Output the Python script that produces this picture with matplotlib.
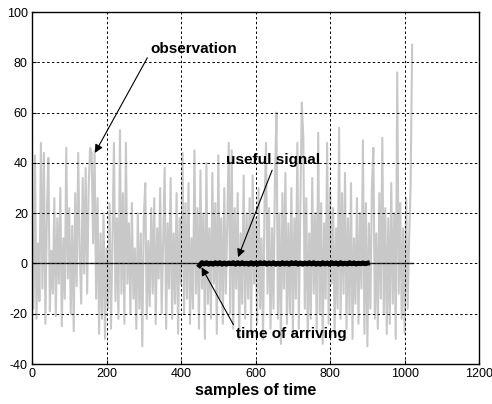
import numpy as np
import matplotlib.pyplot as plt

plt.rcParams['font.family'] = ['Liberation Sans', 'DejaVu Sans']
plt.rcParams['axes.unicode_minus'] = False

# observation (noisy record), one value every 4 samples
obs_step = 4
observation = [
    12, -18, 43, -22, 8, -15, 48, -10, 44, -24, 20, 42, -19, 5, -12, 26,
    -21, 18, -8, 30, -25, 10, -14, 46, -6, 22, -20, 15, -27, 28, -9, 44,
    5, -16, 34, -4, 38, -12, 30, 46, 44, 8, 45, -14, 26, -28, 12, -22,
    20, -30, 6, -18, 24, -26, 10, 48, -15, 18, -22, 53, -12, 28, -24, 48,
    -8, 16, -20, 24, -14, 6, -26, 20, -18, 12, -33, 18, 32, -22, 9, -17,
    22, -12, 26, -24, 14, -6, 30, -20, 8, 38, -26, 16, -10, 34, -22, 12,
    -16, 28, -28, 18, -8, 44, -20, 24, -14, 32, -24, 10, -18, 45, -12, 22,
    -26, 37, -10, 20, -30, 40, -16, 14, -22, 36, -8, 24, -28, 43, -14, 18,
    -24, 30, -12, 16, 48, -20, 45, -26, 22, -10, 28, -30, 12, -16, 35, -22,
    20, -14, 26, -28, 35, -8, 18, -24, 30, -18, 10, -30, 24, 48, -12, 22,
    -26, 14, -18, 34, 60, -22, 20, -32, 28, -10, 36, -24, 16, -20, 30, -28,
    18, -14, 48, -26, 22, 64, 50, -18, 26, -30, 12, -22, 34, -12, 20, -26,
    52, -20, 24, -32, 16, -14, 48, -24, 30, -8, 22, -28, 14, -18, 54, -22,
    28, -12, 36, -26, 18, -20, 32, -30, 10, -16, 26, -24, 20, -10, 49, -28,
    24, -33, 16, -18, 30, 46, -22, 12, -26, 28, -14, 50, -20, 22, -28, 18,
    -24, 32, -16, 20, -30, 76, -12, 24, -22, 14, -28, 26, -18, 10, 31, 87,
]

# useful signal, one value every 6 samples from sample 450 to 900
sig_start = 450
sig_step = 6
useful = [
    -0.8, 0.3, -0.2, 0.3, -0.3, 0.1, -0.3, 0.3, -0.2, 0.3, -0.3, 0.2, -0.3, 0.2, -0.1, 0.3,
    -0.3, 0.3, -0.2, 0.3, -0.2, 0.1, -0.3, 0.3, -0.3, 0.2, -0.3, 0.3, -0.1, 0.3, -0.3, 0.2,
    -0.2, 0.3, -0.3, 0.1, -0.3, 0.3, -0.2, 0.2, -0.3, 0.3, -0.1, 0.3, -0.3, 0.2, -0.3, 0.2,
    -0.2, 0.3, -0.2, 0.3, -0.3, 0.1, -0.3, 0.3, -0.2, 0.2, -0.3, 0.3, -0.1, 0.2, -0.3, 0.3,
    -0.2, 0.1, -0.2, 0.3, -0.1, 0.2, -0.2, 0.1, -0.1, 0.2, -0.1, 0.1,
]

obs_x = np.arange(len(observation)) * obs_step
sig_x = sig_start + np.arange(len(useful)) * sig_step

fig = plt.figure(figsize=(4.92, 4.04), dpi=100)
ax = fig.add_axes([0.065, 0.099, 0.909, 0.871])

ax.plot(obs_x, observation, color='#c8c8c8', linewidth=1.5)
ax.plot([0, 1023], [0, 0], color='#333333', linewidth=1.0)
ax.plot(sig_x, useful, color='black', linewidth=3.6)

ax.set_xlim(0, 1200)
ax.set_ylim(-40, 100)
ax.set_xticks([0, 200, 400, 600, 800, 1000, 1200])
ax.set_yticks([-40, -20, 0, 20, 40, 60, 80, 100])
ax.tick_params(direction='in', length=3, labelsize=9, pad=3)
ax.grid(True, color='black', linestyle=(0, (2.5, 2.5)), linewidth=0.7)
ax.set_axisbelow(False)
for s in ax.spines.values():
    s.set_linewidth(1.0)

ax.set_xlabel('samples of time', fontsize=11.5, fontweight='bold', labelpad=2)

arrow = dict(arrowstyle='-|>', color='black', linewidth=0.8, mutation_scale=12)
ax.annotate('observation', xy=(169, 44), xytext=(317, 85.5),
            fontsize=11, fontweight='bold', va='center', ha='left',
            arrowprops=dict(arrow, shrinkA=0, shrinkB=0, relpos=(0, 0.2)))
ax.annotate('useful signal', xy=(553, 2.5), xytext=(521, 41),
            fontsize=11, fontweight='bold', va='center', ha='left',
            arrowprops=dict(arrow, shrinkA=0, shrinkB=0, relpos=(0.5, 0)))
ax.annotate('time of arriving', xy=(455, -1.5), xytext=(548, -28),
            fontsize=11, fontweight='bold', va='center', ha='left',
            arrowprops=dict(arrow, shrinkA=0, shrinkB=0, relpos=(0, 0.8)))

fig.savefig('out.png', dpi=100)
